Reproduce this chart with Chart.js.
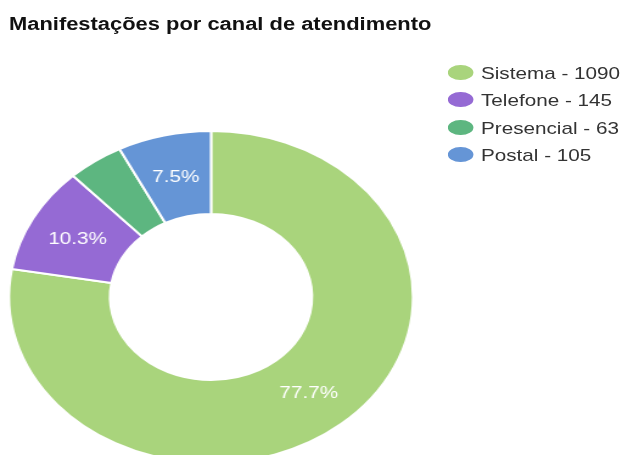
<!DOCTYPE html>
<html>
<head>
<meta charset="utf-8">
<script src="https://cdn.jsdelivr.net/npm/chart.js@4/dist/chart.umd.min.js"></script>
<style>
  html, body { margin:0; padding:0; background:#fff; overflow:hidden; width:625px; height:455px; }
  #stage { position:absolute; left:0; top:0; width:514px; height:470px; transform:scaleX(1.217); transform-origin:0 0; }
  #title { position:absolute; left:7.4px; top:15.2px; font:bold 18px "Liberation Sans", Arial, sans-serif; line-height:18px; color:#111; white-space:nowrap; }
  #chart { position:absolute; left:0; top:0; }
  .lg { position:absolute; left:368px; font:17px "Liberation Sans", Arial, sans-serif; line-height:17px; color:#333; white-space:nowrap; }
  .lg .mk { position:absolute; left:0; width:20.5px; height:15px; border-radius:50%; }
  .lg .tx { position:absolute; left:27.2px; top:0; }
</style>
</head>
<body>
<div id="stage">
  <div id="title">Manifestações por canal de atendimento</div>
  <canvas id="chart" width="514" height="470"></canvas>
  <div id="legend"></div>
</div>
<script>
const categories = ["Sistema", "Telefone", "Presencial", "Postal"];
const values = [1090, 145, 63, 105];
const colors = ["#a9d47c", "#956ad4", "#5db680", "#6595d6"];

// HTML legend
const legend = document.getElementById('legend');
categories.forEach((c, i) => {
  const row = document.createElement('div');
  row.className = 'lg';
  row.style.top = (64.6 + i * 27.6) + 'px';
  const mk = document.createElement('div');
  mk.className = 'mk';
  mk.style.background = colors[i];
  mk.style.top = (14.4 - 7 - 7.5) + 'px';
  const tx = document.createElement('div');
  tx.className = 'tx';
  tx.textContent = c + ' - ' + values[i];
  row.appendChild(mk);
  row.appendChild(tx);
  legend.appendChild(row);
});

const total = values.reduce((a, b) => a + b, 0);

const sliceLabels = {
  id: 'sliceLabels',
  afterDatasetsDraw(chart) {
    const ctx = chart.ctx;
    const meta = chart.getDatasetMeta(0);
    ctx.save();
    ctx.font = '17px "Liberation Sans", Arial, sans-serif';
    ctx.fillStyle = '#ffffff';
    ctx.textAlign = 'center';
    ctx.textBaseline = 'alphabetic';
    meta.data.forEach((arc, i) => {
      const pct = values[i] / total * 100;
      if (pct < 5) return;
      const p = arc.getCenterPoint();
      ctx.fillText(pct.toFixed(1) + '%', p.x, p.y + 6.1);
    });
    ctx.restore();
  }
};

new Chart(document.getElementById('chart'), {
  type: 'doughnut',
  data: {
    labels: categories,
    datasets: [{
      data: values,
      backgroundColor: colors,
      borderColor: '#ffffff',
      borderWidth: 2,
      hoverOffset: 0
    }]
  },
  options: {
    responsive: false,
    maintainAspectRatio: false,
    animation: false,
    cutout: '50%',
    layout: { padding: { left: 6.4, top: 130, right: 173.6, bottom: 6 } },
    plugins: {
      legend: { display: false },
      tooltip: { enabled: false },
      title: { display: false }
    }
  },
  plugins: [sliceLabels]
});
</script>
</body>
</html>
